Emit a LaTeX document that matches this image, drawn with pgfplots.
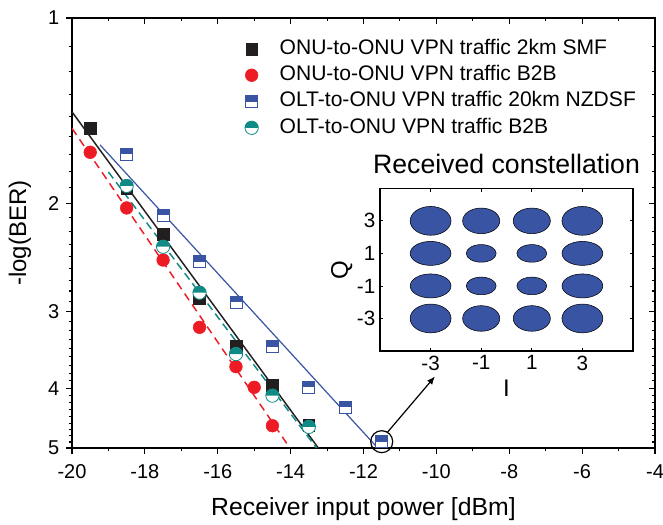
\documentclass[border=0pt]{standalone}
\usepackage{fontspec}
\setmainfont{Liberation Sans}
\usepackage{pgfplots}
\pgfplotsset{compat=1.18}
\usetikzlibrary{arrows.meta}

\definecolor{cblack}{HTML}{231F20}
\definecolor{cred}{HTML}{ED1C24}
\definecolor{cblue}{HTML}{3A54A4}
\definecolor{cteal}{HTML}{0F8A85}

\pgfdeclareplotmark{hsquare}{%
  \begin{pgfscope}\pgfsetfillcolor{white}%
  \pgfpathrectangle{\pgfpoint{-\pgfplotmarksize}{-\pgfplotmarksize}}{\pgfpoint{2\pgfplotmarksize}{2\pgfplotmarksize}}%
  \pgfusepathqfill\end{pgfscope}%
  \pgfpathrectangle{\pgfpoint{-\pgfplotmarksize}{0pt}}{\pgfpoint{2\pgfplotmarksize}{\pgfplotmarksize}}%
  \pgfusepathqfill
  \pgfpathrectangle{\pgfpoint{-\pgfplotmarksize}{-\pgfplotmarksize}}{\pgfpoint{2\pgfplotmarksize}{2\pgfplotmarksize}}%
  \pgfusepathqstroke}
\pgfdeclareplotmark{hcircle}{%
  \begin{pgfscope}\pgfsetfillcolor{white}%
  \pgfpathcircle{\pgfpointorigin}{\pgfplotmarksize}%
  \pgfusepathqfill\end{pgfscope}%
  \pgfpathmoveto{\pgfpoint{\pgfplotmarksize}{0pt}}%
  \pgfpatharc{0}{180}{\pgfplotmarksize}%
  \pgfpathclose
  \pgfusepathqfill
  \pgfpathcircle{\pgfpointorigin}{\pgfplotmarksize}%
  \pgfusepathqstroke}

\begin{document}
\begin{tikzpicture}
\useasboundingbox (-54pt,-57pt) rectangle (443.25pt,336pt);
% mirrored inner ticks (top/right)
\begin{axis}[
    scale only axis, width=437.25pt, height=322.5pt,
    xmin=-20, xmax=-4, ymin=1, ymax=5, ymode=log, y dir=reverse,
    xtick={-20,-18,...,-4}, minor xtick={-19,-17,...,-5},
    ytick={1,2,3,4,5},
    minor ytick={1.111,1.222,1.333,1.444,1.556,1.667,1.778,1.889,
                 2.111,2.222,2.333,2.444,2.556,2.667,2.778,2.889,
                 3.111,3.222,3.333,3.444,3.556,3.667,3.778,3.889,
                 4.111,4.222,4.333,4.444,4.556,4.667,4.778,4.889},
    major tick length=4.5pt, minor tick length=2.6pt,
    axis line style={line width=0.9pt},
    every tick/.style={black, line width=0.8pt},
    xtick pos=right, ytick pos=right, tick align=inside,
    xticklabels={}, yticklabels={}]
\addplot[draw=none, forget plot] coordinates {(-10,2)};
\end{axis}
\begin{axis}[name=main,
    scale only axis, width=437.25pt, height=322.5pt,
    xmin=-20, xmax=-4, ymin=1, ymax=5, ymode=log, y dir=reverse,
    xtick={-20,-18,...,-4}, minor xtick={-19,-17,...,-5},
    ytick={1,2,3,4,5},
    minor ytick={1.111,1.222,1.333,1.444,1.556,1.667,1.778,1.889,
                 2.111,2.222,2.333,2.444,2.556,2.667,2.778,2.889,
                 3.111,3.222,3.333,3.444,3.556,3.667,3.778,3.889,
                 4.111,4.222,4.333,4.444,4.556,4.667,4.778,4.889},
    major tick length=4.5pt, minor tick length=2.6pt,
    axis line style={line width=0.9pt},
    every tick/.style={black, line width=0.8pt},
  xtick pos=left, ytick pos=left, tick align=outside,
  yticklabels={1,2,3,4,5},
  /pgf/number format/assume math mode=true,
  tick label style={font=\fontsize{15}{18}\selectfont},
  xticklabel style={yshift=-4.5pt},
  yticklabel style={xshift=-1.5pt},
  xlabel style={font=\fontsize{18.6}{22}\selectfont},
  ylabel style={font=\fontsize{18}{22}\selectfont},
  xlabel shift=7pt, ylabel shift=6pt,
  xlabel={Receiver input power [dBm]},
  ylabel={-log(BER)},
  legend style={at={(axis description cs:0.2894,0.958)}, anchor=north west,
    draw=none, fill=none, font=\fontsize{15.8}{19}\selectfont,
    row sep=4.7pt, nodes={inner ysep=0pt, text height=11.5pt, text depth=3.5pt},
    /tikz/every odd column/.append style={column sep=14pt}},
  legend cell align=left,
]
% fitted lines
\addplot[forget plot, cblack, line width=1.1pt] coordinates {(-20,1.421) (-13.24,5)};
\addplot[forget plot, cred, line width=1.1pt, dash pattern=on 6pt off 4pt] coordinates {(-20,1.511) (-14.02,5)};
\addplot[forget plot, cteal, line width=1.1pt, dash pattern=on 6pt off 3.5pt] coordinates {(-19.0,1.78) (-13.29,5)};
\addplot[forget plot, cblue, line width=0.9pt] coordinates {(-19.23,1.608) (-11.61,5)};
% data
\addplot[only marks, mark=square*, mark size=4.4pt, mark options={fill=cblack, draw=cblack}] coordinates {
(-19.5,1.511) (-18.5,1.89) (-17.5,2.247) (-16.5,2.855) (-15.5,3.414) (-14.5,3.95) (-13.5,4.59)};
\addlegendentry{ONU-to-ONU VPN traffic 2km SMF}
\addplot[only marks, mark=*, mark size=4.75pt, mark options={fill=cred, draw=cred}] coordinates {
(-19.5,1.653) (-18.5,2.036) (-17.5,2.474) (-16.5,3.183) (-15.5,3.688) (-15.0,3.985) (-14.5,4.60)};
\addlegendentry{ONU-to-ONU VPN traffic B2B}
\addplot[only marks, mark=hsquare, mark size=4.5pt, mark options={fill=cblue, draw=cblue, line width=0.6pt}] coordinates {
(-18.5,1.665) (-17.5,2.09) (-16.5,2.49) (-15.5,2.90) (-14.5,3.422) (-13.5,3.985) (-12.5,4.293) (-11.5,4.883)};
\addlegendentry{OLT-to-ONU VPN traffic 20km NZDSF}
\addplot[only marks, mark=hcircle, mark size=5pt, mark options={fill=cteal, draw=cteal, line width=0.6pt}] coordinates {
(-18.5,1.875) (-17.5,2.354) (-16.5,2.796) (-15.5,3.518) (-14.5,4.11) (-13.5,4.62)};
\addlegendentry{OLT-to-ONU VPN traffic B2B}
% annotation circle and arrow
\addplot[forget plot, only marks, mark=o, mark size=8.25pt, mark options={draw=black, line width=0.9pt}] coordinates {(-11.5,4.883)};
\addplot[forget plot, black, line width=0.9pt, -{Latex[length=6pt,width=5pt]}] coordinates {(-11.35,4.72) (-10.04,3.826)};
\end{axis}
% inset constellation
\begin{axis}[at={(231pt,72.75pt)}, anchor=south west,
  scale only axis, width=189.75pt, height=122pt,
  xmin=-5, xmax=5, ymin=-5, ymax=5,
  xtick={-3,-1,1,3}, ytick={-3,-1,1,3},
  tick align=inside, major tick length=2.5pt,
  axis line style={line width=0.8pt}, every tick/.style={black, line width=0.6pt},
  axis background/.style={fill=white},
  /pgf/number format/assume math mode=true,
  tick label style={font=\fontsize{15.5}{18}\selectfont},
  label style={font=\fontsize{18}{22}\selectfont},
  ylabel shift=-3.5pt,
  title style={font=\fontsize{20}{24}\selectfont, yshift=1.5pt},
  title={Received constellation},
  xlabel={I}, ylabel={Q},
]
\addplot[only marks, mark=*, mark size=10.8pt, mark options={xscale=1.42, fill=cblue, draw=none}] coordinates {(-3,3) (3,3) (-3,-3) (3,-3)};
\addplot[only marks, mark=*, mark size=9.6pt, mark options={xscale=1.45, fill=cblue, draw=none}] coordinates {(-1,3) (1,3) (-1,-3) (1,-3)};
\addplot[only marks, mark=*, mark size=9pt, mark options={xscale=1.7, fill=cblue, draw=none}] coordinates {(-3,1) (3,1) (-3,-1) (3,-1)};
\addplot[only marks, mark=*, mark size=6.6pt, mark options={xscale=1.7, fill=cblue, draw=none}] coordinates {(-1,1) (1,1) (-1,-1) (1,-1)};
\end{axis}
\end{tikzpicture}
\end{document}
